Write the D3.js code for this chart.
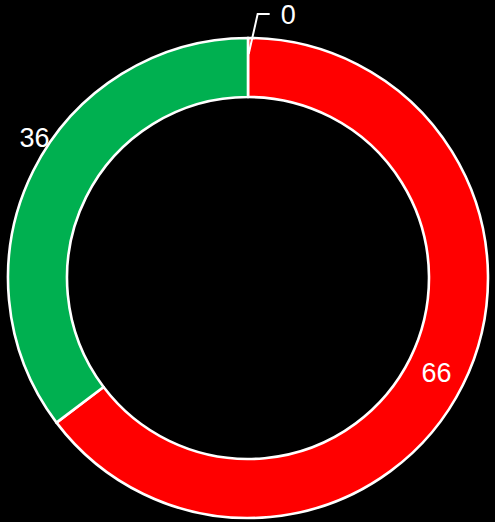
<!DOCTYPE html>
<html>
<head>
<meta charset="utf-8">
<script src="https://cdn.jsdelivr.net/npm/d3@7"></script>
<style>
  html, body { margin:0; padding:0; background:#000; }
  svg { display:block; }
</style>
</head>
<body>
<div id="chart"></div>
<script>
// data
var categories = ["A", "B", "C"]
var values = [0, 66, 36]
var colors = ["#ff0000", "#ff0000", "#00b050"]

var W = 495, H = 522
var cx = 248, cy = 278
var outerR = 240, innerR = 181

var svg = d3.select("#chart").append("svg")
    .attr("width", W).attr("height", H)
    .style("background", "#000")
var g = svg.append("g").attr("transform", "translate(" + cx + "," + cy + ")")
var under = g.append("g")  // labels that sit below the ring
var ring = g.append("g")
var over = g.append("g")

var pie = d3.pie().sort(null).value(d => d)
var arcs = pie(values)
var arc = d3.arc().innerRadius(innerR).outerRadius(outerR)

ring.selectAll("path.slice")
  .data(arcs)
  .enter().append("path")
    .attr("class", "slice")
    .attr("d", arc)
    .attr("fill", (d, i) => colors[i])
    .attr("stroke", "#fff")
    .attr("stroke-width", 2.6)
    .attr("stroke-linejoin", "round")

// label placement: where along the slice (0..1) and at what radius
var labelPos = [
    { frac: 0.5, r: 262, leader: true }
  , { frac: 0.5, r: (innerR + outerR) / 2 }
  , { frac: 0.555, r: 256, below: true }
]

var pt = (a, r) => [r * Math.sin(a), -r * Math.cos(a)]
var font = "27px 'Liberation Sans', Arial, sans-serif"

arcs.forEach((d, i) => {
  var p = labelPos[i]
  var a = d.startAngle + (d.endAngle - d.startAngle) * p.frac
  var pos = pt(a, p.r)
  var anchor = "middle"
  if (p.leader) {
    // small slice: text pushed out, with a bent leader line
    var s = pt(a + 0.003, 224)
    var k = [s[0] + 9, -264]
    var e = [k[0] + 12, k[1]]
    over.append("polyline")
      .attr("points", [s, k, e].map(q => q.join(",")).join(" "))
      .attr("fill", "none").attr("stroke", "#fff").attr("stroke-width", 2)
    pos = [e[0] + 11, e[1]]
    anchor = "start"
  }
  ;(p.below ? under : over).append("text")
    .attr("x", pos[0]).attr("y", pos[1])
    .attr("dy", "0.36em")
    .attr("text-anchor", anchor)
    .attr("fill", "#fff")
    .style("font", font)
    .text(values[i])
})
</script>
</body>
</html>
